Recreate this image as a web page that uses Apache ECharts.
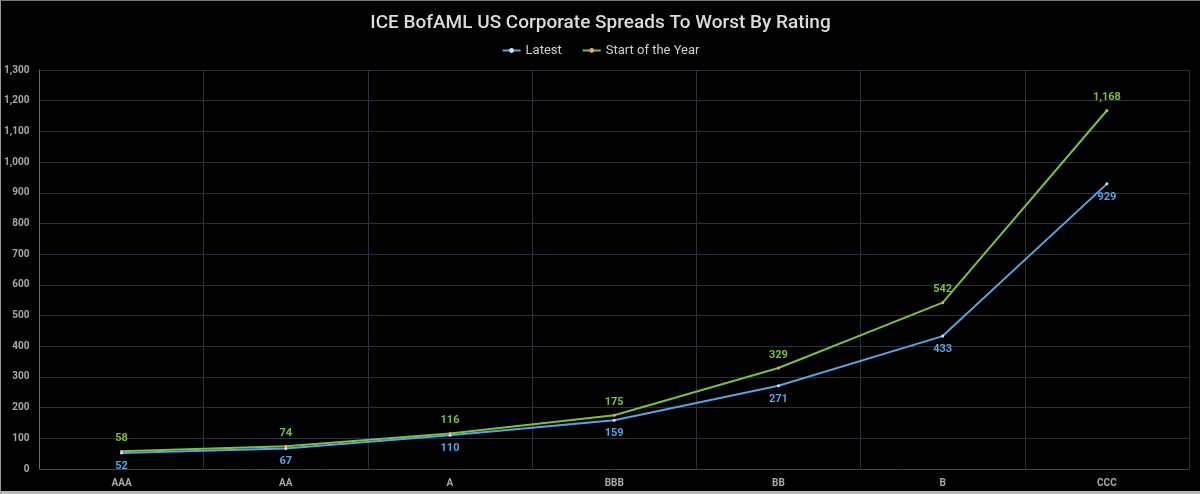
<!DOCTYPE html>
<html>
<head>
<meta charset="utf-8">
<script src="https://cdn.jsdelivr.net/npm/echarts@6/dist/echarts.min.js"></script>
<style>
  html, body { margin: 0; padding: 0; background: #000; }
  #chart { width: 1200px; height: 494px; box-sizing: border-box;
           border-top: 1px solid #7a7a7a; border-left: 1px solid #9a9a9a; border-bottom: 3px solid #b8b8b8; }
</style>
</head>
<body>
<div id="chart"></div>
<script>
  // ratings and spread values (bps)
  var ratings = ['AAA', 'AA', 'A', 'BBB', 'BB', 'B', 'CCC'];
  var latest = [52, 67, 110, 159, 271, 433, 929];
  var startOfYear = [58, 74, 116, 175, 329, 542, 1168];

  var chart = echarts.init(document.getElementById('chart'));
  var font = 'Roboto, "Open Sans", sans-serif';
  var fmt = function (v) { return v.toLocaleString('en-US'); };

  var option = {
    backgroundColor: '#000',
    animation: false,
    title: {
      text: 'ICE BofAML US Corporate Spreads To Worst By Rating',
      left: 'center',
      top: 8,
      textStyle: { color: '#dcdcdc', fontSize: 19, fontWeight: 500, fontFamily: font }
    },
    legend: {
      top: 38,
      left: 'center',
      itemWidth: 18,
      itemHeight: 6,
      itemGap: 20,
      textStyle: { color: '#d0d0d0', fontSize: 13, fontFamily: font },
      data: ['Latest', 'Start of the Year']
    },
    grid: { left: 35, right: 11, top: 69, bottom: 22, containLabel: false },
    xAxis: {
      type: 'category',
      data: ratings,
      axisLine: { show: true, lineStyle: { color: '#3a404a' } },
      axisTick: { show: false },
      axisLabel: { color: '#a8a8a8', fontSize: 10, fontWeight: 'bold', fontFamily: font, margin: 9 },
      splitLine: { show: true, lineStyle: { color: '#29303c', width: 1 } }
    },
    yAxis: {
      type: 'value',
      min: 0,
      max: 1300,
      interval: 100,
      axisLine: { show: true, lineStyle: { color: '#6a6a6a' } },
      axisTick: { show: false },
      axisLabel: { color: '#a8a8a8', fontSize: 10, fontWeight: 'bold', fontFamily: font, margin: 10, formatter: fmt },
      splitLine: { lineStyle: { color: '#29303c', width: 1 } }
    },
    series: [
      {
        name: 'Latest',
        type: 'line',
        data: latest,
        color: '#5aa2e0',
        symbol: 'circle',
        symbolSize: 3,
        itemStyle: { color: '#cfe3f5' },
        lineStyle: { color: '#5aa2e0', width: 2 },
        label: {
          show: true, position: 'bottom', distance: 6,
          color: '#5aa2e0', fontSize: 11, fontWeight: 'bold', fontFamily: font,
          formatter: function (p) { return fmt(p.value); }
        },
        z: 3
      },
      {
        name: 'Start of the Year',
        type: 'line',
        data: startOfYear,
        color: '#7cbf3f',
        symbol: 'circle',
        symbolSize: 3,
        itemStyle: { color: '#f0a070' },
        lineStyle: { color: '#7cbf3f', width: 2 },
        label: {
          show: true, position: 'top', distance: 6,
          color: '#7cbf3f', fontSize: 11, fontWeight: 'bold', fontFamily: font,
          formatter: function (p) { return fmt(p.value); }
        },
        z: 2
      }
    ]
  };

  chart.setOption(option);
</script>
</body>
</html>
